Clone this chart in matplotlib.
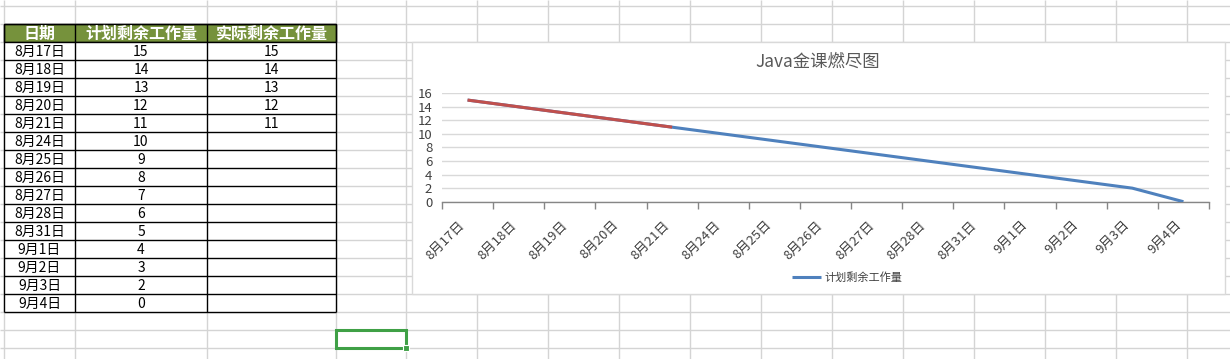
import matplotlib
matplotlib.use("Agg")
import matplotlib.pyplot as plt
from matplotlib.patches import Rectangle

plt.rcParams['font.family'] = ['Noto Sans CJK SC', 'DejaVu Sans']

# data
headers = ["日期", "计划剩余工作量", "实际剩余工作量"]
dates = ["8月17日", "8月18日", "8月19日", "8月20日", "8月21日", "8月24日", "8月25日",
         "8月26日", "8月27日", "8月28日", "8月31日", "9月1日", "9月2日", "9月3日", "9月4日"]
planned = [15, 14, 13, 12, 11, 10, 9, 8, 7, 6, 5, 4, 3, 2, 0]
actual = [15, 14, 13, 12, 11]
title = "Java金课燃尽图"

W, H = 1230, 359
fig = plt.figure(figsize=(W / 100, H / 100), dpi=100)
fig.patch.set_facecolor("white")

# spreadsheet background in pixel coords
bg = fig.add_axes([0, 0, 1, 1])
bg.set_xlim(0, W)
bg.set_ylim(H, 0)
bg.axis("off")

grid_c = "#d4d4d4"
col_x = [4, 75, 207, 336] + [406 + 71 * k for k in range(13)]
row_y = [6 + 18 * k for k in range(20)]
bg.vlines(col_x, 0, H, color=grid_c, lw=1, zorder=1)
bg.hlines(row_y, 0, W, color=grid_c, lw=1, zorder=1)

# table
row_h = 18
top = 24
bg.add_patch(Rectangle((col_x[0], top), col_x[3] - col_x[0], row_h,
                       facecolor="#76923c", edgecolor="black", lw=1, zorder=2))
n = len(dates)
bg.add_patch(Rectangle((col_x[0], top + row_h), col_x[3] - col_x[0], row_h * n,
                       facecolor="white", edgecolor="none", zorder=2))
for k in range(n + 2):
    bg.hlines(top + row_h * k, col_x[0], col_x[3], color="black", lw=1, zorder=3)
bg.vlines(col_x[:4], top, top + row_h * (n + 1), color="black", lw=1, zorder=3)

centers = [(col_x[i] + col_x[i + 1]) / 2 for i in range(3)]
for i, h in enumerate(headers):
    bg.text(centers[i], top + row_h / 2 + 1, h, ha="center", va="center",
            color="white", fontsize=11.5, fontweight="bold", zorder=4)
for r in range(n):
    yc = top + row_h * (r + 1) + row_h / 2 + 1
    bg.text(centers[0], yc, dates[r], ha="center", va="center", fontsize=10, zorder=4)
    bg.text(centers[1], yc, str(planned[r]), ha="center", va="center", fontsize=10, zorder=4)
    if r < len(actual):
        bg.text(centers[2], yc, str(actual[r]), ha="center", va="center", fontsize=10, zorder=4)

# selected cell
bg.add_patch(Rectangle((336, 330), 70, 18, facecolor="none", edgecolor="#3fa046", lw=2.2, zorder=5))
bg.add_patch(Rectangle((403, 345), 6, 6, facecolor="#3fa046", edgecolor="white", lw=0.8, zorder=6))

# chart area
bg.add_patch(Rectangle((412, 42), 1225 - 412, 294 - 42, facecolor="white",
                       edgecolor="#d9d9d9", lw=1, zorder=5))

x0, x1 = 442, 1209
y16, y0 = 93.3, 201.7
ax = fig.add_axes([x0 / W, 1 - y0 / H, (x1 - x0) / W, (y0 - y16) / H])
ax.set_zorder(10)
ax.patch.set_alpha(0)

xs = list(range(n))
line_plan, = ax.plot(xs, planned, color="#4f81bd", lw=2.2, solid_capstyle="butt",
                     label="计划剩余工作量", zorder=3)
ax.plot(xs[:len(actual)], actual, color="#c0504d", lw=2.2, solid_capstyle="butt", zorder=4)

ax.set_xlim(-0.5, n - 0.5)
ax.set_ylim(0, 16)
ax.set_yticks(range(0, 17, 2))
ax.grid(axis="y", color="#d9d9d9", lw=1)
ax.set_axisbelow(True)
for s in ["top", "right", "left"]:
    ax.spines[s].set_visible(False)
ax.spines["bottom"].set_color("#868686")
ax.spines["bottom"].set_linewidth(1)
ax.tick_params(axis="y", length=0, pad=7, labelsize=9.5, labelcolor="#404040")

ax.set_xticks(xs)
ax.set_xticklabels(dates, rotation=45, ha="right", va="top", fontsize=9.5, color="#404040")
ax.tick_params(axis="x", which="major", length=0, pad=12)
ax.set_xticks([i - 0.5 for i in range(n + 1)], minor=True)
ax.tick_params(axis="x", which="minor", length=5, width=1, color="#868686", direction="out")

fig.text(818 / W, 1 - 62 / H, title, ha="center", va="center", fontsize=12.5, color="#595959")

ax.legend(handles=[line_plan], loc="center", bbox_to_anchor=(847 / W, 1 - 278 / H),
          bbox_transform=fig.transFigure, frameon=False, fontsize=8, handlelength=2.6,
          handletextpad=0.3, labelcolor="#404040")

fig.savefig("out.png", dpi=100)
